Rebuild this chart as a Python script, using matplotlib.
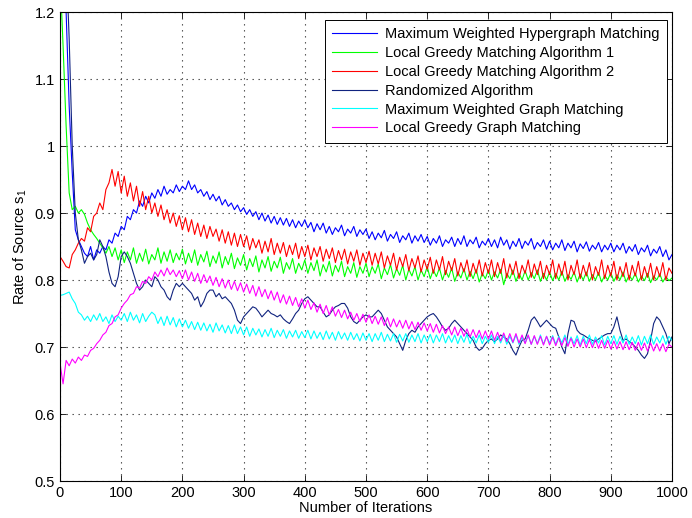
import numpy as np
import matplotlib
matplotlib.use("Agg")
import matplotlib.pyplot as plt

plt.rcParams.update({
    "font.family": ["Liberation Sans", "DejaVu Sans"],
    "font.size": 10.5,
    "mathtext.default": "regular",
})

# values read every 5 iterations (0..1000)
iters = np.arange(0, 1001, 5)

mwhm = [
    1.45, 1.32, 1.2, 1.06, 0.96, 0.875, 0.86, 0.85, 0.84, 0.835, 0.85, 0.83, 0.845, 0.84, 0.85, 0.845, 0.86, 0.855, 0.87, 0.865,
    0.88, 0.875, 0.895, 0.89, 0.905, 0.9, 0.918, 0.91, 0.925, 0.915, 0.93, 0.922, 0.935, 0.925, 0.94, 0.928, 0.935, 0.93, 0.942, 0.932,
    0.94, 0.935, 0.948, 0.935, 0.942, 0.93, 0.935, 0.925, 0.932, 0.92, 0.928, 0.918, 0.925, 0.912, 0.92, 0.91, 0.915, 0.905, 0.912, 0.902,
    0.908, 0.898, 0.905, 0.895, 0.902, 0.89, 0.9, 0.888, 0.897, 0.885, 0.895, 0.883, 0.893, 0.882, 0.892, 0.88, 0.89, 0.878, 0.888, 0.88,
    0.89, 0.878, 0.886, 0.872, 0.884, 0.875, 0.885, 0.87, 0.88, 0.868, 0.878, 0.872, 0.882, 0.866, 0.876, 0.87, 0.88, 0.865, 0.875, 0.868,
    0.876, 0.862, 0.872, 0.86, 0.87, 0.863, 0.874, 0.858, 0.868, 0.862, 0.872, 0.856, 0.866, 0.86, 0.87, 0.855, 0.866, 0.858, 0.868, 0.856,
    0.865, 0.852, 0.862, 0.855, 0.866, 0.85, 0.86, 0.855, 0.864, 0.85, 0.862, 0.853, 0.866, 0.85, 0.86, 0.854, 0.864, 0.848, 0.858, 0.852,
    0.862, 0.85, 0.86, 0.848, 0.864, 0.852, 0.86, 0.846, 0.858, 0.85, 0.862, 0.847, 0.858, 0.852, 0.862, 0.846, 0.856, 0.85, 0.86, 0.846,
    0.858, 0.845, 0.855, 0.848, 0.86, 0.844, 0.855, 0.848, 0.858, 0.842, 0.854, 0.847, 0.857, 0.843, 0.852, 0.846, 0.856, 0.842, 0.852, 0.845,
    0.855, 0.842, 0.852, 0.845, 0.855, 0.84, 0.85, 0.843, 0.853, 0.838, 0.848, 0.842, 0.852, 0.836, 0.846, 0.84, 0.85, 0.835, 0.845, 0.83, 0.838,
]
lg1 = [
    1.26, 1.15, 1.03, 0.93, 0.905, 0.91, 0.9, 0.905, 0.898, 0.885, 0.875, 0.868, 0.862, 0.855, 0.848, 0.84, 0.85, 0.835, 0.848, 0.83,
    0.845, 0.826, 0.842, 0.83, 0.848, 0.825, 0.84, 0.828, 0.846, 0.824, 0.838, 0.83, 0.848, 0.825, 0.842, 0.828, 0.845, 0.826, 0.84, 0.83,
    0.846, 0.824, 0.84, 0.826, 0.845, 0.822, 0.838, 0.827, 0.843, 0.82, 0.836, 0.825, 0.842, 0.818, 0.835, 0.823, 0.84, 0.817, 0.833, 0.822,
    0.838, 0.815, 0.832, 0.82, 0.836, 0.812, 0.83, 0.818, 0.835, 0.813, 0.828, 0.818, 0.834, 0.81, 0.826, 0.816, 0.832, 0.81, 0.825, 0.815,
    0.83, 0.81, 0.826, 0.814, 0.83, 0.806, 0.823, 0.812, 0.828, 0.806, 0.822, 0.812, 0.828, 0.805, 0.82, 0.81, 0.826, 0.804, 0.82, 0.81,
    0.825, 0.805, 0.82, 0.81, 0.824, 0.802, 0.818, 0.808, 0.823, 0.803, 0.817, 0.807, 0.822, 0.8, 0.816, 0.806, 0.82, 0.8, 0.815, 0.805,
    0.82, 0.802, 0.815, 0.805, 0.818, 0.8, 0.814, 0.804, 0.818, 0.798, 0.812, 0.803, 0.817, 0.8, 0.813, 0.802, 0.816, 0.797, 0.81, 0.802,
    0.815, 0.8, 0.812, 0.803, 0.816, 0.793, 0.81, 0.802, 0.815, 0.798, 0.81, 0.8, 0.814, 0.8, 0.811, 0.802, 0.815, 0.798, 0.81, 0.8,
    0.812, 0.799, 0.81, 0.8, 0.813, 0.798, 0.808, 0.801, 0.812, 0.797, 0.809, 0.8, 0.812, 0.798, 0.808, 0.8, 0.811, 0.797, 0.807, 0.8,
    0.811, 0.798, 0.808, 0.8, 0.812, 0.797, 0.807, 0.8, 0.81, 0.797, 0.806, 0.799, 0.81, 0.796, 0.806, 0.8, 0.809, 0.797, 0.805, 0.799, 0.803,
]
lg2 = [
    0.835, 0.828, 0.82, 0.818, 0.838, 0.845, 0.855, 0.862, 0.858, 0.878, 0.872, 0.895, 0.9, 0.915, 0.905, 0.935, 0.945, 0.965, 0.94, 0.962,
    0.93, 0.955, 0.925, 0.945, 0.918, 0.94, 0.91, 0.932, 0.905, 0.925, 0.9, 0.915, 0.895, 0.912, 0.89, 0.905, 0.885, 0.9, 0.88, 0.896,
    0.875, 0.893, 0.872, 0.89, 0.868, 0.885, 0.865, 0.882, 0.862, 0.88, 0.865, 0.876, 0.858, 0.875, 0.855, 0.872, 0.852, 0.87, 0.85, 0.868,
    0.85, 0.866, 0.845, 0.862, 0.848, 0.86, 0.84, 0.858, 0.842, 0.862, 0.838, 0.855, 0.84, 0.856, 0.835, 0.852, 0.838, 0.855, 0.832, 0.85,
    0.835, 0.852, 0.83, 0.848, 0.835, 0.85, 0.828, 0.846, 0.832, 0.848, 0.826, 0.844, 0.83, 0.846, 0.824, 0.842, 0.828, 0.845, 0.822, 0.84,
    0.826, 0.843, 0.822, 0.84, 0.824, 0.842, 0.818, 0.836, 0.822, 0.84, 0.815, 0.834, 0.82, 0.838, 0.814, 0.832, 0.818, 0.836, 0.812, 0.83,
    0.816, 0.834, 0.81, 0.83, 0.815, 0.835, 0.808, 0.828, 0.814, 0.832, 0.806, 0.826, 0.812, 0.83, 0.805, 0.825, 0.81, 0.83, 0.806, 0.826,
    0.81, 0.83, 0.805, 0.826, 0.81, 0.832, 0.803, 0.824, 0.808, 0.828, 0.802, 0.822, 0.81, 0.83, 0.804, 0.824, 0.808, 0.828, 0.802, 0.822,
    0.808, 0.83, 0.802, 0.824, 0.807, 0.828, 0.8, 0.822, 0.808, 0.83, 0.802, 0.822, 0.806, 0.826, 0.8, 0.82, 0.807, 0.83, 0.802, 0.822,
    0.806, 0.828, 0.8, 0.82, 0.805, 0.826, 0.8, 0.822, 0.806, 0.828, 0.8, 0.82, 0.804, 0.825, 0.8, 0.82, 0.805, 0.826, 0.8, 0.818, 0.81,
]
rand = [
    1.6, 1.42, 1.28, 1.16, 1.0, 0.9, 0.86, 0.845, 0.825, 0.835, 0.84, 0.83, 0.838, 0.86, 0.85, 0.835, 0.812, 0.795, 0.79, 0.805,
    0.835, 0.842, 0.835, 0.825, 0.81, 0.795, 0.785, 0.79, 0.8, 0.795, 0.79, 0.805, 0.8, 0.79, 0.785, 0.775, 0.77, 0.785, 0.795, 0.79,
    0.795, 0.79, 0.785, 0.78, 0.77, 0.775, 0.76, 0.768, 0.78, 0.785, 0.785, 0.775, 0.78, 0.772, 0.775, 0.77, 0.765, 0.755, 0.74, 0.735,
    0.745, 0.75, 0.755, 0.76, 0.758, 0.752, 0.745, 0.75, 0.755, 0.75, 0.748, 0.745, 0.748, 0.742, 0.738, 0.735, 0.742, 0.75, 0.755, 0.765,
    0.772, 0.775, 0.77, 0.765, 0.76, 0.76, 0.752, 0.745, 0.748, 0.755, 0.76, 0.762, 0.765, 0.765, 0.758, 0.745, 0.738, 0.735, 0.74, 0.745,
    0.748, 0.745, 0.745, 0.75, 0.755, 0.75, 0.74, 0.73, 0.725, 0.72, 0.715, 0.705, 0.695, 0.71, 0.72, 0.725, 0.722, 0.73, 0.735, 0.74,
    0.745, 0.748, 0.75, 0.745, 0.738, 0.73, 0.725, 0.728, 0.735, 0.74, 0.735, 0.73, 0.725, 0.72, 0.715, 0.71, 0.7, 0.695, 0.698, 0.705,
    0.71, 0.712, 0.708, 0.712, 0.718, 0.715, 0.712, 0.705, 0.695, 0.688, 0.7, 0.71, 0.712, 0.725, 0.74, 0.745, 0.738, 0.73, 0.735, 0.74,
    0.735, 0.73, 0.728, 0.715, 0.7, 0.69, 0.72, 0.74, 0.738, 0.725, 0.72, 0.718, 0.715, 0.712, 0.71, 0.708, 0.712, 0.715, 0.718, 0.72,
    0.72, 0.73, 0.745, 0.725, 0.71, 0.712, 0.708, 0.705, 0.7, 0.695, 0.688, 0.683, 0.69, 0.71, 0.735, 0.745, 0.74, 0.73, 0.72, 0.705, 0.715,
]
mwgm = [
    0.777, 0.778, 0.78, 0.782, 0.772, 0.765, 0.752, 0.748, 0.74, 0.746, 0.738, 0.748, 0.74, 0.75, 0.738, 0.745, 0.735, 0.748, 0.738, 0.746,
    0.74, 0.75, 0.738, 0.752, 0.74, 0.748, 0.736, 0.75, 0.738, 0.746, 0.752, 0.748, 0.735, 0.745, 0.732, 0.746, 0.733, 0.744, 0.73, 0.742,
    0.73, 0.74, 0.728, 0.738, 0.726, 0.737, 0.725, 0.736, 0.724, 0.734, 0.722, 0.736, 0.724, 0.733, 0.721, 0.732, 0.72, 0.733, 0.72, 0.73,
    0.718, 0.73, 0.716, 0.728, 0.718, 0.727, 0.715, 0.726, 0.716, 0.728, 0.714, 0.725, 0.716, 0.726, 0.713, 0.724, 0.715, 0.725, 0.713, 0.723,
    0.714, 0.725, 0.712, 0.724, 0.713, 0.722, 0.711, 0.724, 0.712, 0.722, 0.71, 0.723, 0.712, 0.721, 0.71, 0.722, 0.711, 0.72, 0.709, 0.721,
    0.71, 0.72, 0.708, 0.72, 0.71, 0.722, 0.708, 0.719, 0.709, 0.72, 0.707, 0.719, 0.709, 0.72, 0.707, 0.718, 0.708, 0.72, 0.706, 0.718,
    0.708, 0.719, 0.706, 0.718, 0.708, 0.72, 0.706, 0.717, 0.707, 0.718, 0.705, 0.717, 0.707, 0.719, 0.705, 0.716, 0.706, 0.718, 0.705, 0.716,
    0.707, 0.718, 0.705, 0.716, 0.706, 0.718, 0.704, 0.716, 0.706, 0.718, 0.704, 0.715, 0.706, 0.717, 0.704, 0.716, 0.705, 0.718, 0.704, 0.716,
    0.706, 0.717, 0.704, 0.716, 0.706, 0.718, 0.704, 0.715, 0.705, 0.717, 0.703, 0.716, 0.705, 0.718, 0.704, 0.715, 0.706, 0.717, 0.703, 0.716,
    0.705, 0.717, 0.704, 0.716, 0.706, 0.718, 0.704, 0.715, 0.705, 0.717, 0.703, 0.716, 0.705, 0.718, 0.704, 0.715, 0.706, 0.717, 0.704, 0.716, 0.71,
]
lggm = [
    0.676, 0.645, 0.68, 0.672, 0.682, 0.676, 0.685, 0.68, 0.688, 0.686, 0.695, 0.698, 0.705, 0.71, 0.718, 0.722, 0.732, 0.735, 0.745, 0.748,
    0.758, 0.765, 0.77, 0.778, 0.78, 0.79, 0.788, 0.798, 0.795, 0.805, 0.8, 0.812, 0.805, 0.815, 0.806, 0.818, 0.808, 0.815, 0.805, 0.814,
    0.802, 0.815, 0.8, 0.812, 0.798, 0.81, 0.795, 0.808, 0.796, 0.806, 0.792, 0.804, 0.79, 0.802, 0.788, 0.8, 0.786, 0.798, 0.784, 0.796,
    0.782, 0.794, 0.78, 0.792, 0.776, 0.79, 0.775, 0.786, 0.772, 0.784, 0.77, 0.782, 0.766, 0.778, 0.764, 0.776, 0.762, 0.774, 0.76, 0.772,
    0.758, 0.77, 0.756, 0.766, 0.752, 0.764, 0.75, 0.762, 0.748, 0.76, 0.746, 0.756, 0.744, 0.755, 0.742, 0.752, 0.74, 0.75, 0.738, 0.749,
    0.737, 0.748, 0.735, 0.746, 0.734, 0.745, 0.732, 0.744, 0.73, 0.742, 0.73, 0.74, 0.728, 0.74, 0.727, 0.738, 0.726, 0.737, 0.725, 0.736,
    0.724, 0.735, 0.722, 0.734, 0.721, 0.732, 0.72, 0.73, 0.718, 0.73, 0.717, 0.728, 0.716, 0.727, 0.715, 0.726, 0.714, 0.725, 0.712, 0.724,
    0.712, 0.724, 0.71, 0.722, 0.709, 0.721, 0.708, 0.72, 0.707, 0.72, 0.706, 0.718, 0.705, 0.718, 0.704, 0.717, 0.704, 0.716, 0.703, 0.716,
    0.703, 0.715, 0.702, 0.714, 0.702, 0.714, 0.701, 0.713, 0.7, 0.712, 0.7, 0.712, 0.699, 0.711, 0.699, 0.711, 0.698, 0.71, 0.698, 0.71,
    0.697, 0.709, 0.697, 0.708, 0.696, 0.708, 0.696, 0.707, 0.695, 0.707, 0.695, 0.706, 0.694, 0.706, 0.694, 0.705, 0.694, 0.705, 0.693, 0.704, 0.7,
]

labels = [
    "Maximum Weighted Hypergraph Matching",
    "Local Greedy Matching Algorithm 1",
    "Local Greedy Matching Algorithm 2",
    "Randomized Algorithm",
    "Maximum Weighted Graph Matching",
    "Local Greedy Graph Matching",
]
series = [mwhm, lg1, lg2, rand, mwgm, lggm]
colors = ["#0000ff", "#00ff00", "#ff0000", "#10237f", "#00ffff", "#ff00ff"]

fig = plt.figure(figsize=(6.92, 5.18), dpi=100)
ax = fig.add_axes([0.0867, 0.0714, 0.8844, 0.9054])
for s, c, l in zip(series, colors, labels):
    ax.plot(iters, s, color=c, lw=0.8, label=l)

ax.set_xlim(0, 1000)
ax.set_ylim(0.5, 1.2)
ax.set_xticks(np.arange(0, 1001, 100))
ax.set_yticks([0.5, 0.6, 0.7, 0.8, 0.9, 1.0, 1.1, 1.2])
ax.set_yticklabels(["0.5", "0.6", "0.7", "0.8", "0.9", "1", "1.1", "1.2"])
ax.tick_params(direction="in", top=True, right=True, length=4, width=0.6)
ax.grid(True, ls=(0, (1.2, 4.2)), color="0.25", lw=0.8)
for sp in ax.spines.values():
    sp.set_linewidth(0.8)
ax.set_xlabel("Number of Iterations", labelpad=1)
ax.set_ylabel("Rate of Source s$_1$", labelpad=4)

leg = ax.legend(loc="upper right", bbox_to_anchor=(0.992, 0.983), handlelength=3.1,
                fancybox=False, edgecolor="black", framealpha=1, borderpad=0.5,
                labelspacing=0.33, handletextpad=0.55, borderaxespad=0.0)
leg.get_frame().set_linewidth(0.7)

fig.savefig("out.png", dpi=100)
